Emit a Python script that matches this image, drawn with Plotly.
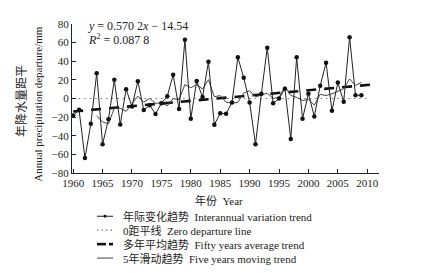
import plotly.graph_objects as go

# ---- data ----
years = list(range(1960, 2010))
departure = [-18.3, -12.1, -64.0, -27.2, 27.1, -49.2, -22.4, 20.2, -27.9, 10.0,
             -8.5, 18.5, -12.3, -7.3, -16.6, -5.2, 2.4, 25.5, -11.4, 63.2,
             -21.7, 18.7, 1.5, 39.5, -28.3, -15.8, -16.5, -4.2, 44.2, 22.3,
             -4.2, -49.2, 5.0, 54.5, -5.2, -0.1, 10.5, -43.4, 44.2, -21.7,
             5.0, -19.2, 13.7, 38.4, -13.1, 17.1, -3.4, 65.9, 3.5, 3.5]
ma_years = list(range(1964, 2010))
moving5 = [-18.9, -25.1, -27.1, -10.3, -10.4, -13.9, -5.7, 2.5, -4.0, 0.1,
           -5.2, -4.6, -7.8, -0.2, -1.1, 14.9, 11.6, 14.9, 10.1, 20.2,
           1.9, 3.1, -3.9, -5.1, -4.1, 6.0, 8.3, 1.8, 3.6, 5.7,
           0.2, 1.0, 12.9, 3.3, 1.2, -2.1, -1.1, -7.0, 4.4, 3.2,
           5.0, 7.4, 10.5, 21.0, 14.0, 17.3]
trend_slope = 0.5702
trend_intercept = -14.54
trend_years = [1960, 2011]
zero_years = [1960, 2010]
x_ticks = [1960, 1965, 1970, 1975, 1980, 1985, 1990, 1995, 2000, 2005, 2010]
y_ticks = [-80, -60, -40, -20, 0, 20, 40, 60, 80]

legend_labels = [
    "年际变化趋势  Interannual variation trend",
    "0距平线  Zero departure line",
    "多年平均趋势  Fifty years average trend",
    "5年滑动趋势  Five years moving trend",
]

trend_vals = [trend_slope * (y - 1959) + trend_intercept for y in trend_years]

FONT = "Liberation Serif, 'Noto Sans CJK SC', serif"
OFF = 8                      # page body margin
W, H = 429 - OFF, 273 - OFF
# plot area in window pixels: x 72..379, y 18..173
L, T, PW, PH = 72 - OFF, 18 - OFF, 307, 155


def px(xp):
    return (xp - OFF - L) / PW


def py(yp):
    return (T + PH - (yp - OFF)) / PH


fig = go.Figure()
fig.add_trace(go.Scatter(x=zero_years, y=[0, 0], mode="lines",
                         line=dict(color="#777", width=1.2, dash="1.5px,4px"),
                         showlegend=False))
fig.add_trace(go.Scatter(x=trend_years, y=trend_vals, mode="lines",
                         line=dict(color="#111", width=2.6, dash="10px,8px"),
                         showlegend=False))
fig.add_trace(go.Scatter(x=ma_years, y=moving5, mode="lines",
                         line=dict(color="#444", width=1),
                         showlegend=False))
fig.add_trace(go.Scatter(x=years, y=departure, mode="lines+markers",
                         line=dict(color="#222", width=1),
                         marker=dict(color="#111", size=4.5),
                         showlegend=False))

annotations = [
    dict(text="<i>y</i> = 0.570 2<i>x</i> − 14.54", x=px(86), y=py(20.5),
         xanchor="left", font=dict(size=12, family=FONT, color="#222")),
    dict(text="<i>R</i><sup>2</sup> = 0.087 8", x=px(86), y=py(34),
         xanchor="left", font=dict(size=12, family=FONT, color="#222")),
    dict(text="年降水量距平", x=px(22), y=py(98), textangle=-90,
         font=dict(size=12, family=FONT, color="#222")),
    dict(text="Annual precipitation departure/mm", x=px(38), y=py(101),
         textangle=-90),
    dict(text="年份  Year", x=px(219), y=py(202)),
]
shapes = []
rows = [218, 232.5, 247, 261.5]
for lab, ry in zip(legend_labels, rows):
    annotations.append(dict(text=lab, x=px(121), y=py(ry), xanchor="left"))
# legend symbols
shapes.append(dict(type="line", x0=px(97), x1=px(113), y0=py(rows[0]), y1=py(rows[0]),
                   line=dict(color="#222", width=1)))
shapes.append(dict(type="circle", x0=px(103.5), x1=px(106.5), y0=py(rows[0] - 1.5),
                   y1=py(rows[0] + 1.5), fillcolor="#111", line=dict(width=0)))
shapes.append(dict(type="line", x0=px(97), x1=px(113), y0=py(rows[1]), y1=py(rows[1]),
                   line=dict(color="#777", width=1.2, dash="1.5px,3px")))
shapes.append(dict(type="line", x0=px(97), x1=px(106), y0=py(rows[2]), y1=py(rows[2]),
                   line=dict(color="#111", width=2.6)))
shapes.append(dict(type="line", x0=px(109), x1=px(113), y0=py(rows[2]), y1=py(rows[2]),
                   line=dict(color="#111", width=2.6)))
shapes.append(dict(type="line", x0=px(97), x1=px(113), y0=py(rows[3]), y1=py(rows[3]),
                   line=dict(color="#444", width=1)))

for a in annotations:
    a.setdefault("xref", "paper")
    a.setdefault("yref", "paper")
    a.setdefault("xanchor", "center")
    a.setdefault("yanchor", "middle")
    a.setdefault("showarrow", False)
    a.setdefault("font", dict(size=11, family=FONT, color="#222"))
for s in shapes:
    s["xref"] = "paper"
    s["yref"] = "paper"

axis_common = dict(showline=True, linecolor="#222", linewidth=1, ticks="inside",
                   ticklen=4, tickcolor="#222", showgrid=False, zeroline=False,
                   tickfont=dict(size=11, family=FONT, color="#222"))
fig.update_layout(
    width=W, height=H,
    margin=dict(l=L, r=W - L - PW, t=T, b=H - T - PH, pad=0),
    paper_bgcolor="white", plot_bgcolor="white",
    xaxis=dict(range=[1959.8, 2012.0], tickvals=x_ticks, **axis_common),
    yaxis=dict(range=[-80, 80], tickvals=y_ticks, **axis_common),
    annotations=annotations, shapes=shapes, showlegend=False,
)
fig.write_html("out.html")
